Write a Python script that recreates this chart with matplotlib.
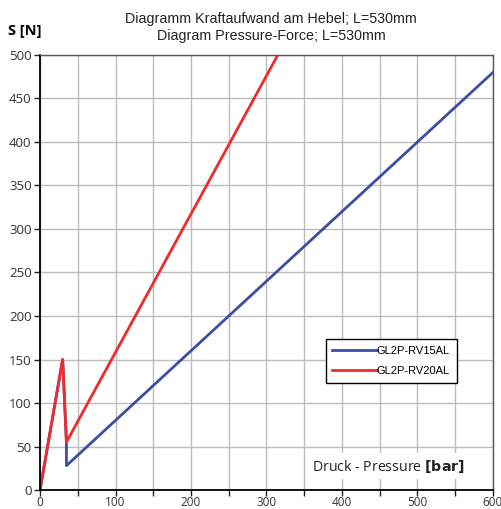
import matplotlib.pyplot as plt
from matplotlib.ticker import MultipleLocator

# Daten
druck_rv15 = [0, 30, 35, 35, 600]
kraft_rv15 = [0, 150, 55, 28, 480]
druck_rv20 = [0, 30, 35, 315]
kraft_rv20 = [0, 150, 55, 500]

fig = plt.figure(figsize=(5.02, 5.09), dpi=100)
ax = fig.add_axes([0.0797, 0.0373, 0.9023, 0.8547])

ax.plot(druck_rv15, kraft_rv15, color='#3a4fa3', lw=2, label='GL2P-RV15AL')
ax.plot(druck_rv20, kraft_rv20, color='#ee2c2c', lw=2, label='GL2P-RV20AL')

ax.set_xlim(0, 600)
ax.set_ylim(0, 500)
ax.xaxis.set_major_locator(MultipleLocator(100))
ax.xaxis.set_minor_locator(MultipleLocator(50))
ax.yaxis.set_major_locator(MultipleLocator(50))
ax.grid(True, which='both', color='#bcbcbc', lw=1.0)
ax.set_axisbelow(True)
ax.tick_params(which='both', direction='out', length=4, width=1, color='#222222')
ax.tick_params(axis='y', labelsize=9.5, pad=2)
ax.tick_params(axis='x', labelsize=8.5, pad=0.5)
for lab in ax.get_xticklabels() + ax.get_yticklabels():
    lab.set_fontfamily('Open Sans')
    lab.set_color('#333333')

for s in ['left', 'bottom']:
    ax.spines[s].set_color('black')
    ax.spines[s].set_linewidth(1.3)
for s in ['top', 'right']:
    ax.spines[s].set_color('#555555')
    ax.spines[s].set_linewidth(1.0)

fig.text(0.54, 0.946, 'Diagramm Kraftaufwand am Hebel; L=530mm\nDiagram Pressure-Force; L=530mm',
         ha='center', va='center', fontsize=10.3, family='Liberation Sans', color='#222222',
         linespacing=1.2)
fig.text(0.016, 0.94, 'S [N]', fontsize=10.5, fontweight='bold', family='Open Sans', va='center')

ax.text(0.938, 0.055, r'Druck - Pressure $\mathbf{[bar]}$', transform=ax.transAxes,
        ha='right', va='center', fontsize=10.2, family='Open Sans', color='#222222',
        bbox=dict(facecolor='white', edgecolor='none', pad=3))

leg = ax.legend(loc='upper left', bbox_to_anchor=(0.631, 0.347), borderaxespad=0,
                fancybox=False, edgecolor='black', framealpha=1, handlelength=4,
                handletextpad=0.0, borderpad=0.6, labelspacing=0.95,
                prop={'family': 'Liberation Sans', 'size': 8})
leg.get_frame().set_linewidth(1.0)

fig.savefig('out.png', dpi=100)
